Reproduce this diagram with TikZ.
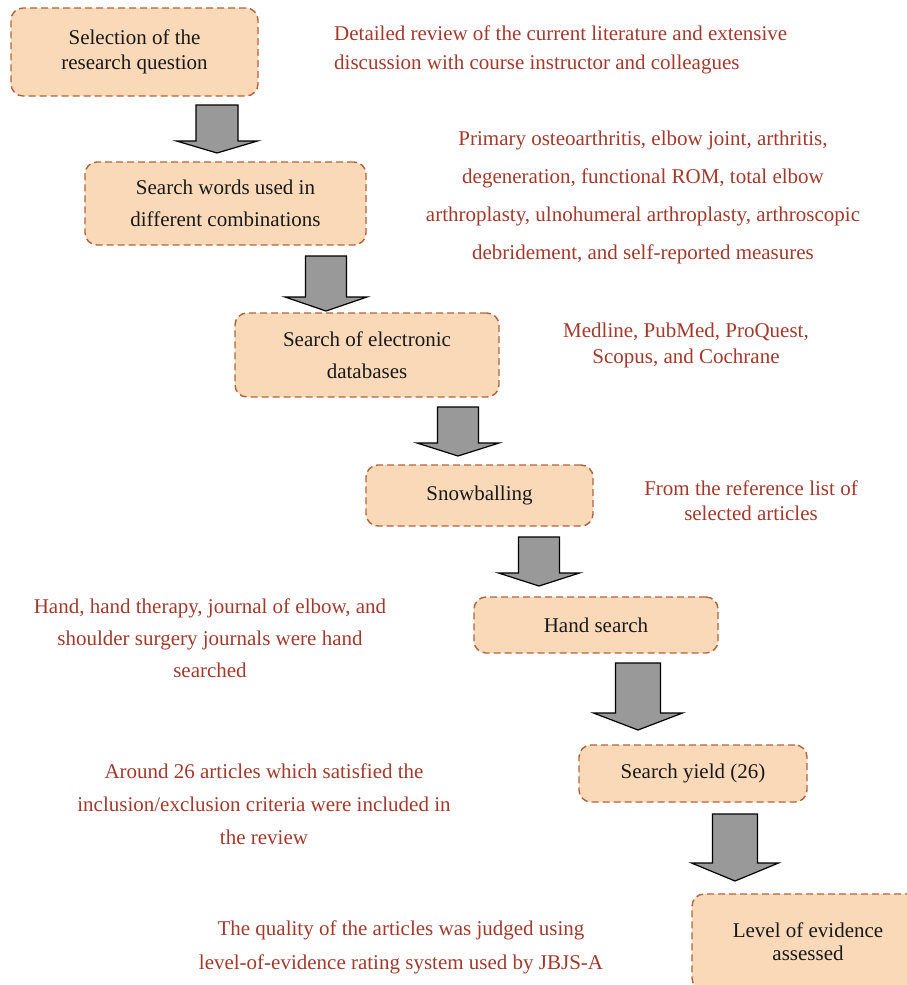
\documentclass[tikz,border=0pt]{standalone}
\usepackage{fontspec}
\setmainfont{Liberation Serif}
\usetikzlibrary{calc}
\definecolor{peach}{HTML}{FAD9B9}
\definecolor{boxedge}{HTML}{B0633D}
\definecolor{notered}{HTML}{A3392B}
\definecolor{arrowgray}{HTML}{999999}
\tikzset{
  stepbox/.style={draw=boxedge,fill=peach,dash pattern=on 7pt off 4pt,line width=1.4pt,
    rounded corners=12pt,align=center,inner sep=0pt,text=black!90},
  note/.style={text=notered,align=center,inner sep=0pt},
  arrowblk/.style={draw=black,fill=arrowgray,line width=1.2pt,line join=miter}
}
% #1 start, #2 tip, #3 half shaft, #4 half head, #5 head length
\newcommand{\blockarrow}[5]{%
  \draw[arrowblk] ($(#1)+(-#3,0)$) -- ($(#2)+(-#3,-#5)$) -- ($(#2)+(-#4,-#5)$) -- (#2)
    -- ($(#2)+(#4,-#5)$) -- ($(#2)+(#3,-#5)$) -- ($(#1)+(#3,0)$) -- cycle;}

\begin{document}
\begin{tikzpicture}[x=1pt,y=-1pt]
\useasboundingbox (0,0) rectangle (906,985);

% steps
\node[stepbox,minimum width=247pt,minimum height=88pt,font=\fontsize{21}{25}\selectfont] (sel) at (134.5,52) {Selection of the\\research question};
\node[stepbox,minimum width=281pt,minimum height=83pt,font=\fontsize{21}{32}\selectfont] (words) at (225.5,203.5) {Search words used in\\different combinations};
\node[stepbox,minimum width=264pt,minimum height=84pt,font=\fontsize{21}{32}\selectfont] (elec) at (367,355) {Search of electronic\\databases};
\node[stepbox,minimum width=227pt,minimum height=61pt,font=\fontsize{21}{25}\selectfont] (snow) at (479.5,495.5) {Snowballing};
\node[stepbox,minimum width=244pt,minimum height=56pt,font=\fontsize{21}{25}\selectfont] (hand) at (596,625) {Hand search};
\node[stepbox,minimum width=228pt,minimum height=57pt,font=\fontsize{21}{25}\selectfont] (yield) at (693,773.5) {Search yield (26)};
\node[stepbox,minimum width=232pt,minimum height=96pt,font=\fontsize{21}{23}\selectfont] (level) at (808,942) {Level of evidence\\assessed};

% notes
\node[note,align=left,anchor=west,font=\fontsize{21}{29}\selectfont] (n1) at (334,50) {Detailed review of the current literature and extensive\\discussion with course instructor and colleagues};
\node[note,font=\fontsize{21}{38}\selectfont] (n2) at (643,197) {Primary osteoarthritis, elbow joint, arthritis,\\degeneration, functional ROM, total elbow\\arthroplasty, ulnohumeral arthroplasty, arthroscopic\\debridement, and self-reported measures};
\node[note,font=\fontsize{21}{26}\selectfont] (n3) at (686,345) {Medline, PubMed, ProQuest,\\Scopus, and Cochrane};
\node[note,font=\fontsize{21}{25}\selectfont] (n4) at (751,501) {From the reference list of\\selected articles};
\node[note,font=\fontsize{21}{32}\selectfont] (n5) at (210,638) {Hand, hand therapy, journal of elbow, and\\shoulder surgery journals were hand\\searched};
\node[note,font=\fontsize{21}{33}\selectfont] (n6) at (264,804) {Around 26 articles which satisfied the\\inclusion/exclusion criteria were included in\\the review};
\node[note,font=\fontsize{21}{34}\selectfont] (n7) at (401,947) {The quality of the articles was judged using\\level-of-evidence rating system used by JBJS-A};

% arrows
\coordinate (a1s) at (217,105); \coordinate (a1e) at (217,153);
\coordinate (a2s) at (326,256); \coordinate (a2e) at (326,311);
\coordinate (a3s) at (458,407); \coordinate (a3e) at (458,456);
\coordinate (a4s) at (539,537); \coordinate (a4e) at (539,586);
\coordinate (a5s) at (638,663); \coordinate (a5e) at (638,730);
\coordinate (a6s) at (735,814); \coordinate (a6e) at (735,881);
\blockarrow{a1s}{a1e}{21}{40.5}{12}
\blockarrow{a2s}{a2e}{20.5}{41}{14}
\blockarrow{a3s}{a3e}{20.5}{41}{13}
\blockarrow{a4s}{a4e}{20.5}{40.5}{13}
\blockarrow{a5s}{a5e}{22.5}{44.5}{17}
\blockarrow{a6s}{a6e}{22.5}{43.5}{18}
\end{tikzpicture}
\end{document}
